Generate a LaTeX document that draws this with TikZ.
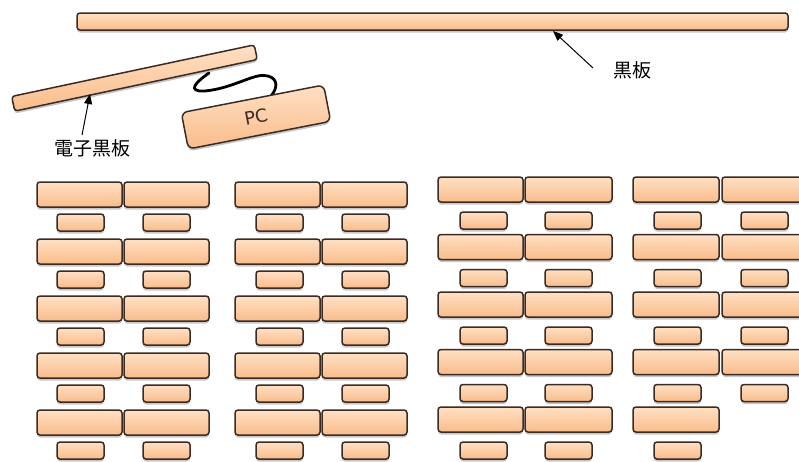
\documentclass[tikz,border=0pt]{standalone}
\usepackage{fontspec}
\newfontfamily\cjk{Noto Sans CJK JP}
\newfontfamily\pcfont{DejaVu Sans}
\usetikzlibrary{arrows.meta,shadows}
\definecolor{desktop}{RGB}{255,224,196}
\definecolor{deskbot}{RGB}{249,188,138}
\definecolor{deskline}{RGB}{58,44,36}
\begin{document}
\begin{tikzpicture}[x=1pt,y=-1pt,
  desk/.style={draw=deskline, line width=1.5pt, rounded corners=3pt,
    top color=desktop, bottom color=deskbot, inner sep=0pt, outer sep=0pt,
    drop shadow={shadow xshift=0pt, shadow yshift=-2.5pt, opacity=0.22, fill=black}},
  large/.style={desk, minimum width=85pt, minimum height=25pt, anchor=north west},
  small/.style={desk, minimum width=47pt, minimum height=17pt, anchor=north west},
  lbl/.style={font=\fontsize{19pt}{22pt}\selectfont\cjk, text=black, inner sep=0pt},
  arr/.style={line width=1pt, -{Triangle[length=10pt,width=8pt]}}
]
\clip (0,0) rectangle (799,461);
\fill[white] (0,0) rectangle (799,461);

% cable (behind board and PC)
\coordinate (cabA) at (209,73);
\coordinate (cabB) at (271,96);
\draw[line width=2.8pt, line cap=round, black]
  (cabA) .. controls (196,82) and (186,92) .. (205,91)
         .. controls (235,88) and (255,72) .. (268,76)
         .. controls (279,79) and (277,89) .. (cabB);

% blackboard
\node[desk, minimum width=711pt, minimum height=17pt, anchor=north west] (board) at (77,13) {};
% electronic blackboard
\node[desk, minimum width=248pt, minimum height=15pt, rotate=12] (eboard) at (134.5,78) {};
% PC
\node[desk, rounded corners=6pt, minimum width=145pt, minimum height=37pt, rotate=11] (pc) at (256,117) {};
\node[rotate=11, inner sep=0pt, font={\fontsize{18pt}{20pt}\pcfont}, text=deskline] (pclabel) at (pc.center) {PC};

% labels and arrows
\node[lbl] (lblboard) at (632,70) {黒板};
\coordinate (boardtail) at (593,68);
\coordinate (boardtip) at (553,31);
\draw[arr] (boardtail) -- (boardtip);

\node[lbl] (lbleboard) at (92,148) {電子黒板};
\coordinate (ebtail) at (82,135);
\coordinate (ebtip) at (90,94);
\draw[arr] (ebtail) -- (ebtip);

% column 1
\foreach \r in {0,...,4} {
  \pgfmathsetmacro\yy{182+57*\r}
  \node[large] (aL\r) at (37,\yy) {};
  \node[large] (aR\r) at (124,\yy) {};
  \node[small] (al\r) at (57,\yy+32) {};
  \node[small] (ar\r) at (143,\yy+32) {};
}
% column 2
\foreach \r in {0,...,4} {
  \pgfmathsetmacro\yy{182+57*\r}
  \node[large] (bL\r) at (235,\yy) {};
  \node[large] (bR\r) at (322,\yy) {};
  \node[small] (bl\r) at (256,\yy+32) {};
  \node[small] (br\r) at (342,\yy+32) {};
}
% column 3
\foreach \r in {0,...,4} {
  \pgfmathsetmacro\yy{177+57.5*\r}
  \node[large] (cL\r) at (438,\yy) {};
  \node[large, minimum width=87pt] (cR\r) at (525,\yy) {};
  \node[small] (cl\r) at (460,\yy+35) {};
  \node[small] (cr\r) at (545,\yy+35) {};
}
% column 4
\foreach \r in {0,...,3} {
  \pgfmathsetmacro\yy{177+57.5*\r}
  \node[large, minimum width=86pt] (dL\r) at (633,\yy) {};
  \node[large, minimum width=86pt] (dR\r) at (722,\yy) {};
  \node[small] (dl\r) at (654,\yy+35) {};
  \node[small] (dr\r) at (741,\yy+35) {};
}
\node[large, minimum width=86pt] (dL4) at (633,407) {};
\node[small] (dl4) at (654,442) {};
\end{tikzpicture}
\end{document}
